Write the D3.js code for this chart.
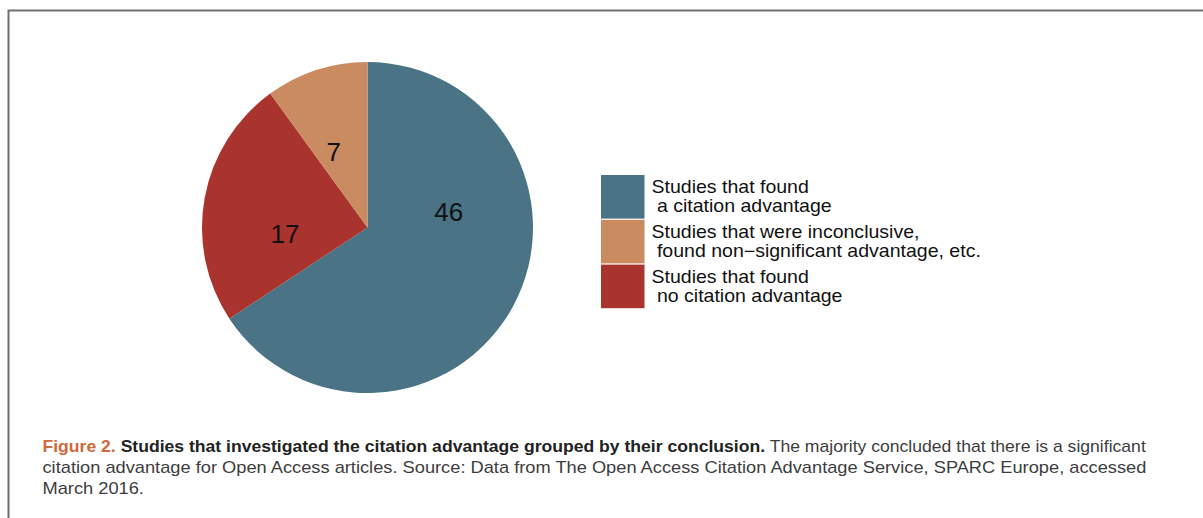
<!DOCTYPE html>
<html>
<head>
<meta charset="utf-8">
<script src="https://cdn.jsdelivr.net/npm/d3@7"></script>
<style>
  html, body { margin: 0; padding: 0; background: #fff; }
  svg { display: block; }
</style>
</head>
<body>
<svg id="chart" width="1203" height="518"></svg>
<script>
'use strict';

// Data.
var categories = ["found", "none", "inconclusive"];
var counts = [46, 17, 7];
var sliceColors = ["#4a7385", "#a9342d", "#cb8b61"];

// Legend order differs from slice order.
var legendOrder = ["found", "inconclusive", "none"];
var legendLines = {
	found: ["Studies that found", " a citation advantage"],
	inconclusive: ["Studies that were inconclusive,", " found non\u2212significant advantage, etc."],
	none: ["Studies that found", " no citation advantage"]
};

var captionLines = [
	[
		{text: "Figure 2. ", weight: "bold", fill: "#d0693a"},
		{text: "Studies that investigated the citation advantage grouped by their conclusion.", weight: "bold", fill: "#222"},
		{text: " The majority concluded that there is a significant", weight: "normal", fill: "#3d3d3d"}
	],
	[
		{text: "citation advantage for Open Access articles. Source: Data from The Open Access Citation Advantage Service, SPARC Europe, accessed", weight: "normal", fill: "#3d3d3d"}
	],
	[
		{text: "March 2016.", weight: "normal", fill: "#3d3d3d"}
	]
];

var W = 1203, H = 518;
var svg = d3.select("#chart");

// Frame (top and left edges visible, cropped on the right).
svg.append("path")
		.attr("d", "M8.5," + H + "V10.5H" + W)
		.attr("fill", "none")
		.attr("stroke", "#6e6e6e")
		.attr("stroke-width", 2);

//////////////////////////////////////////////////
// Pie
//////////////////////////////////////////////////

var cx = 367.5, cy = 227.5, radius = 165.5;

var color = d3.scaleOrdinal().domain(categories).range(sliceColors);

var pie = d3.pie().sort(null).value(function(d) { return d.value; });
var arcs = pie(categories.map(function(c, i) { return {key: c, value: counts[i]}; }));

var arc = d3.arc().innerRadius(0).outerRadius(radius);

var gPie = svg.append("g").attr("transform", "translate(" + cx + "," + cy + ")");

gPie.selectAll("path.slice")
		.data(arcs)
		.enter().append("path")
		.attr("class", "slice")
		.attr("d", arc)
		.attr("fill", function(d) { return color(d.data.key); });

// Labels sit at half radius, a third of the way through each slice.
gPie.selectAll("text.count")
		.data(arcs)
		.enter().append("text")
		.attr("class", "count")
		.attr("x", function(d) {
			var a = d.startAngle + (d.endAngle - d.startAngle) / 3;
			return Math.sin(a) * radius / 2;
		})
		.attr("y", function(d) {
			var a = d.startAngle + (d.endAngle - d.startAngle) / 3;
			return -Math.cos(a) * radius / 2;
		})
		.attr("text-anchor", "middle")
		.attr("dy", "0.36em")
		.attr("font-family", "'Liberation Sans', Arial, sans-serif")
		.attr("font-size", 26)
		.attr("fill", "#111")
		.text(function(d) { return d.data.value; });

//////////////////////////////////////////////////
// Legend
//////////////////////////////////////////////////

var legendX = 601, legendY = 175, boxW = 43.5, rowH = 44.8;
var legendTextRight = 981;

var gLegend = svg.append("g").attr("transform", "translate(" + legendX + "," + legendY + ")");

var rows = gLegend.selectAll("g.row")
		.data(legendOrder)
		.enter().append("g")
		.attr("class", "row")
		.attr("transform", function(d, i) { return "translate(0," + (i * rowH) + ")"; });

rows.append("rect")
		.attr("width", boxW)
		.attr("height", rowH - 1.2)
		.attr("fill", function(d) { return color(d); });

var legendTexts = rows.append("text")
		.attr("font-family", "'Liberation Sans', Arial, sans-serif")
		.attr("font-size", 17.5)
		.attr("fill", "#111")
		.attr("xml:space", "preserve")
		.style("white-space", "pre");

legendTexts.selectAll("tspan")
		.data(function(d) { return legendLines[d]; })
		.enter().append("tspan")
		.attr("x", 0)
		.attr("y", function(d, i) { return 18 + i * 19.5; })
		.text(function(d) { return d; });

// The original face is wider; stretch so the longest line ends where it did.
var widest = 0;
legendTexts.each(function() { widest = Math.max(widest, this.getBBox().width); });
var stretch = (legendTextRight - legendX - boxW - 7) / widest;
legendTexts.attr("transform", "translate(" + (boxW + 7) + ",0) scale(" + stretch + ",1)");

//////////////////////////////////////////////////
// Caption
//////////////////////////////////////////////////

var capX = 42.5, capRight = 1147, capY0 = 452, capLead = 21;

var capTexts = svg.selectAll("text.caption")
		.data(captionLines)
		.enter().append("text")
		.attr("class", "caption")
		.attr("font-family", "'Liberation Sans', Arial, sans-serif")
		.attr("font-size", 16)
		.attr("xml:space", "preserve")
		.style("white-space", "pre");

capTexts.selectAll("tspan")
		.data(function(d) { return d; })
		.enter().append("tspan")
		.attr("font-weight", function(d) { return d.weight; })
		.attr("fill", function(d) { return d.fill; })
		.text(function(d) { return d.text; });

// Squeeze lines horizontally to mimic the condensed caption face.
var squeeze = 1;
capTexts.each(function(d, i) {
	var len = this.getComputedTextLength();
	if (i < captionLines.length - 1) {
		squeeze = (capRight - capX) / len;
	}
	d3.select(this).attr("transform",
			"translate(" + capX + "," + (capY0 + i * capLead) + ") scale(" + squeeze + ",1)");
});
</script>
</body>
</html>
